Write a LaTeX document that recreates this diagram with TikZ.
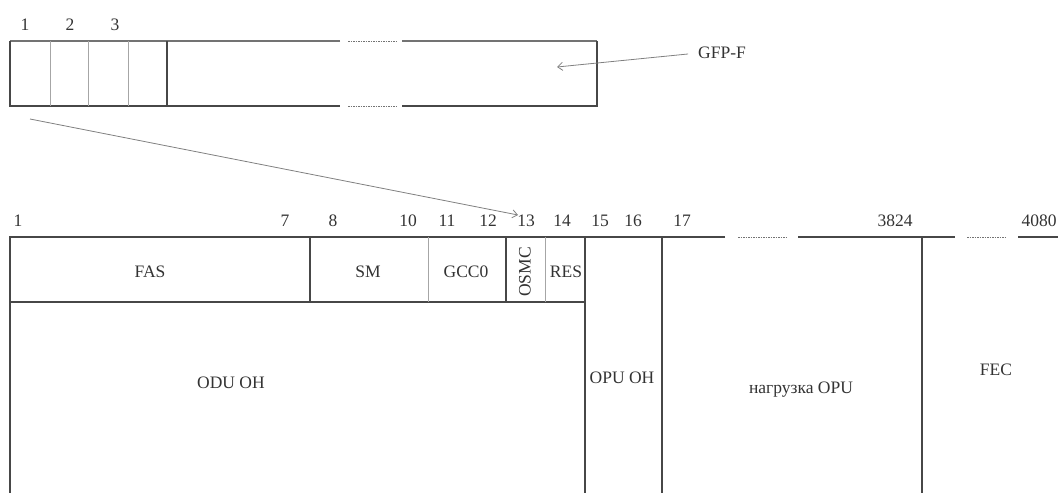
\documentclass[tikz,border=0pt]{standalone}
\usepackage{fontspec}
\setmainfont{Liberation Serif}
\usetikzlibrary{arrows.meta}
\begin{document}
\begin{tikzpicture}[x=1pt,y=-1pt,
  frame/.style={draw=black!72, line width=1.6pt},
  frameg/.style={draw=black!55, line width=1.6pt},
  thinl/.style={draw=black!35, line width=1pt},
  dots/.style={draw=black!55, line width=1pt, dash pattern=on 1.5pt off 1pt},
  lbl/.style={text=black!80, font=\fontsize{17.5}{20}\selectfont, inner sep=0pt},
  ptr/.style={draw=black!50, line width=0.8pt, -{Straight Barb[length=5pt,width=8pt]}}]
\useasboundingbox (0,0) rectangle (1058,493);
% ---------- GFP-F frame (top) ----------
\draw[frameg] (340,41) -- (10,41);
\draw[frame] (10,41) -- (10,106) -- (340,106);
\draw[dots] (348,41) -- (398,41);
\draw[dots] (348,106) -- (398,106);
\draw[frameg] (402,41) -- (597,41);
\draw[frame] (597,41) -- (597,106) -- (402,106);
\draw[thinl] (50,41) -- (50,106);
\draw[thinl] (88,41) -- (88,106);
\draw[thinl] (128,41) -- (128,106);
\draw[frame] (167,41) -- (167,106);
\node[lbl] (t1) at (25,25) {1};
\node[lbl] (t2) at (70,25) {2};
\node[lbl] (t3) at (115,25) {3};
\node[lbl] (gfp) at (722,53) {GFP-F};
\coordinate (gfphead) at (557,67);
\draw[ptr, shorten <=10pt] (gfp.west) -- (gfphead);
% ---------- OTU frame (bottom) ----------
\draw[frame] (725,237) -- (10,237) -- (10,493);
\draw[dots] (738,237) -- (788,237);
\draw[frame] (798,237) -- (955,237);
\draw[dots] (967,237) -- (1005,237);
\draw[frame] (1018,237) -- (1058,237);
\draw[frame] (10,302) -- (585,302);
\draw[frame] (310,237) -- (310,302);
\draw[thinl] (428,237) -- (428,302);
\draw[frame, line width=1.2pt] (506,237) -- (506,302);
\draw[thinl] (545,237) -- (545,302);
\draw[frame] (585,237) -- (585,493);
\draw[frame] (662,237) -- (662,493);
\draw[frame] (922,237) -- (922,493);
% column numbers
\node[lbl] (c1) at (18,221) {1};
\node[lbl] (c7) at (285,221) {7};
\node[lbl] (c8) at (333,221) {8};
\node[lbl] (c10) at (408,221) {10};
\node[lbl] (c11) at (447,221) {11};
\node[lbl] (c12) at (488,221) {12};
\node[lbl] (c13) at (526,221) {13};
\node[lbl] (c14) at (562,221) {14};
\node[lbl] (c15) at (600,221) {15};
\node[lbl] (c16) at (633,221) {16};
\node[lbl] (c17) at (682,221) {17};
\node[lbl] (c3824) at (895,221) {3824};
\node[lbl] (c4080) at (1039,221) {4080};
% field names
\node[lbl] (fas) at (150,272) {FAS};
\node[lbl] (sm) at (368,272) {SM};
\node[lbl] (gcc) at (466,272) {GCC0};
\node[lbl, rotate=90] (osmc) at (525,272) {OSMC};
\node[lbl] (res) at (566,272) {RES};
\node[lbl] (odu) at (231,383) {ODU OH};
\node[lbl] (opu) at (622,378) {OPU OH};
\node[lbl] (pay) at (801,390) {нагрузка OPU};
\node[lbl] (fec) at (996,370) {FEC};
% zoom line
\coordinate (zs) at (30,119);
\coordinate (ze) at (518,215);
\draw[ptr] (zs) -- (ze);
\end{tikzpicture}
\end{document}
